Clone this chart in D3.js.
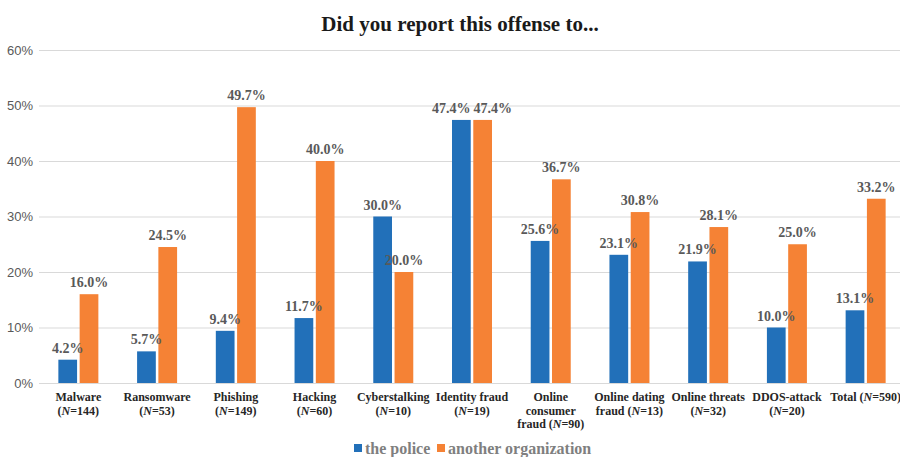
<!DOCTYPE html>
<html>
<head>
<meta charset="utf-8">
<script src="https://cdn.jsdelivr.net/npm/d3@7"></script>
<style>
  body { margin: 0; background: #fff; }
</style>
</head>
<body>
<div id="chart"></div>
<script>
// categories, with their line breaks as in the original
var categories = [
  ["Malware", "(N=144)"],
  ["Ransomware", "(N=53)"],
  ["Phishing", "(N=149)"],
  ["Hacking", "(N=60)"],
  ["Cyberstalking", "(N=10)"],
  ["Identity fraud", "(N=19)"],
  ["Online", "consumer", "fraud (N=90)"],
  ["Online dating", "fraud (N=13)"],
  ["Online threats", "(N=32)"],
  ["DDOS-attack", "(N=20)"],
  ["Total (N=590)"]
];
var seriesNames = ["the police", "another organization"];
var police = [4.2, 5.7, 9.4, 11.7, 30.0, 47.4, 25.6, 23.1, 21.9, 10.0, 13.1];
var otherOrg = [16.0, 24.5, 49.7, 40.0, 20.0, 47.4, 36.7, 30.8, 28.1, 25.0, 33.2];
var yTicks = [0, 10, 20, 30, 40, 50, 60];
var colors = ["#2270b9", "#f58235"];

var width = 900, height = 457;
var serif = "'Liberation Serif', 'Times New Roman', serif";

var svg = d3.select("#chart").append("svg")
            .attr("width", width)
            .attr("height", height);

var x0 = d3.scaleBand()
           .domain(d3.range(categories.length))
           .range([39, 905])
           .padding(0);

var x1 = d3.scaleBand()
           .domain([0, 1])
           .range([x0.bandwidth() / 2 - 20, x0.bandwidth() / 2 + 20])
           .paddingInner(0.12);

var y = d3.scaleLinear()
          .domain([0, 60])
          .range([383, 50]);

// gridlines + y labels
var yAxis = d3.axisLeft(y)
              .tickValues(yTicks)
              .tickSize(-(width - 39))
              .tickPadding(6)
              .tickFormat(function (d) { return d + "%"; });

var gy = svg.append("g")
            .attr("transform", "translate(39,0)")
            .call(yAxis);
gy.select(".domain").remove();
gy.selectAll(".tick line")
  .attr("stroke", "#d9d9d9")
  .attr("stroke-width", 1);
gy.selectAll(".tick text")
  .attr("fill", "#595959")
  .attr("font-family", "'Liberation Sans', Arial, sans-serif")
  .attr("font-size", "13px");

// title
svg.append("text")
   .attr("x", 460)
   .attr("y", 31)
   .attr("text-anchor", "middle")
   .attr("font-family", serif)
   .attr("font-weight", "bold")
   .attr("font-size", "21px")
   .attr("fill", "#1a1a1a")
   .text("Did you report this offense to...");

var rows = categories.map(function (c, i) {
  return { i: i, values: [police[i], otherOrg[i]] };
});

var groups = svg.append("g").selectAll("g")
                .data(rows)
                .enter().append("g")
                .attr("transform", function (d) { return "translate(" + x0(d.i) + ",0)"; });

groups.selectAll("rect")
      .data(function (d) { return d.values.map(function (v, s) { return { s: s, v: v }; }); })
      .enter().append("rect")
      .attr("x", function (d) { return x1(d.s); })
      .attr("width", x1.bandwidth())
      .attr("y", function (d) { return y(d.v); })
      .attr("height", function (d) { return y(0) - y(d.v); })
      .attr("fill", function (d) { return colors[d.s]; });

groups.selectAll("text.val")
      .data(function (d) { return d.values.map(function (v, s) { return { s: s, v: v }; }); })
      .enter().append("text")
      .attr("class", "val")
      .attr("x", function (d) { return x1(d.s) + x1.bandwidth() / 2; })
      .attr("y", function (d) { return y(d.v) - 7; })
      .attr("text-anchor", "middle")
      .attr("font-family", serif)
      .attr("font-weight", "bold")
      .attr("font-size", "14px")
      .attr("fill", "#595959")
      .text(function (d) { return d.v.toFixed(1) + "%"; });

// push apart the two labels of a group when they collide (identity fraud)
groups.each(function () {
  var labels = d3.select(this).selectAll("text.val").nodes();
  var a = labels[0].getBBox(), b = labels[1].getBBox();
  var vOverlap = a.y < b.y + b.height && b.y < a.y + a.height;
  var over = a.x + a.width - b.x + 3;
  if (vOverlap && over > 0) {
    d3.select(labels[0]).attr("x", +d3.select(labels[0]).attr("x") - over / 2);
    d3.select(labels[1]).attr("x", +d3.select(labels[1]).attr("x") + over / 2);
  }
});

// category labels, N in italics
var catText = groups.append("text")
                    .attr("text-anchor", "middle")
                    .attr("font-family", serif)
                    .attr("font-weight", "bold")
                    .attr("font-size", "12px")
                    .attr("fill", "#262626");

catText.each(function (d) {
  var t = d3.select(this);
  categories[d.i].forEach(function (line, li) {
    var tl = t.append("tspan")
              .attr("x", x0.bandwidth() / 2)
              .attr("y", 401 + li * 13.5);
    var m = line.split("N=");
    if (m.length > 1) {
      tl.append("tspan").text(m[0]);
      tl.append("tspan").attr("font-style", "italic").text("N");
      tl.append("tspan").text("=" + m[1]);
    } else {
      tl.text(line);
    }
  });
});

// legend
var legend = svg.append("g");
var lx = [354, 437];
seriesNames.forEach(function (name, s) {
  legend.append("rect")
        .attr("x", lx[s])
        .attr("y", 444)
        .attr("width", 8)
        .attr("height", 8)
        .attr("fill", colors[s]);
  legend.append("text")
        .attr("x", lx[s] + 11)
        .attr("y", 454)
        .attr("font-family", serif)
        .attr("font-weight", "bold")
        .attr("font-size", "16px")
        .attr("fill", "#7f7f7f")
        .text(name);
});
</script>
</body>
</html>
